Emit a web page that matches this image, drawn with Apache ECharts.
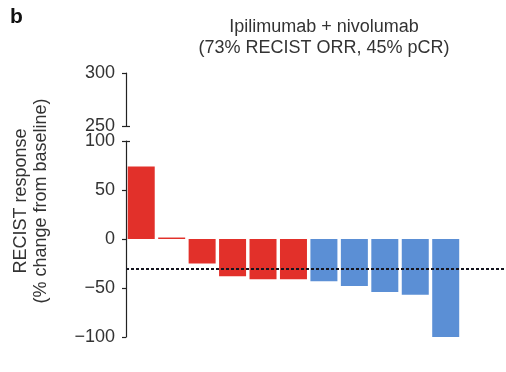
<!DOCTYPE html>
<html><head><meta charset="utf-8">
<script src="https://cdn.jsdelivr.net/npm/echarts@6/dist/echarts.min.js"></script>
<style>html,body{margin:0;padding:0;background:#fff}#c{width:506px;height:372px}</style>
</head><body><div id="c"></div>
<script>
// ---- data ----
const patients = ['P1','P2','P3','P4','P5','P6','P7','P8','P9','P10','P11'];
const responses = [74, 1.5, -25, -38, -41, -41, -43, -48, -54, -57, -100];
const pathCR = [false, false, false, false, false, false, true, true, true, true, true];
const upperTicks = [250, 300];
const lowerTicks = [-100, -50, 0, 50, 100];
const recistThreshold = -30;
const titleLines = ['Ipilimumab + nivolumab', '(73% RECIST ORR, 45% pCR)'];
const yNameLines = ['RECIST response', '(% change from baseline)'];
const panelLetter = 'b';

// ---- style ----
const FONT = '"Liberation Sans", Arial, Helvetica, sans-serif';
const RED = '#e2302a', BLUE = '#5b8fd5', INK = '#222';
const xSpan = 12.48;

const chart = echarts.init(document.getElementById('c'), null, {renderer: 'canvas'});

const fmt = v => String(v).replace('-', '\u2212');
const axisCommon = {
  position: 'left',
  axisLine: {show: true, lineStyle: {color: INK, width: 1.2}},
  axisTick: {show: true, length: 4, lineStyle: {color: INK, width: 1.2}},
  axisLabel: {fontSize: 18, fontFamily: FONT, color: '#333', margin: 11, formatter: fmt},
  splitLine: {show: false}
};
const breakTick = v => ({
  position: 'left',
  axisLine: {show: false}, axisLabel: {show: false}, splitLine: {show: false},
  axisTick: {show: true, inside: true, length: 4, customValues: [v], lineStyle: {color: INK, width: 1.2}}
});

const option = {
  animation: false,
  backgroundColor: '#fff',
  title: {
    text: titleLines.join('\n'),
    left: 319, top: 12, textAlign: 'center',
    textStyle: {fontSize: 18, fontWeight: 'normal', fontFamily: FONT, color: '#333', lineHeight: 21}
  },
  grid: [
    {left: 126, right: 0, top: 73, height: 53},
    {left: 126, right: 0, top: 141, height: 196}
  ],
  xAxis: [
    {gridIndex: 0, type: 'value', min: 0, max: xSpan, show: false},
    {gridIndex: 1, type: 'value', min: 0, max: xSpan, show: false}
  ],
  yAxis: [
    Object.assign({}, axisCommon, {gridIndex: 0, type: 'value', min: upperTicks[0], max: upperTicks[upperTicks.length-1], interval: 50}),
    Object.assign({}, axisCommon, {gridIndex: 1, type: 'value', min: lowerTicks[0], max: lowerTicks[lowerTicks.length-1], interval: 50}),
    Object.assign(breakTick(upperTicks[0]), {gridIndex: 0, type: 'value', min: upperTicks[0], max: upperTicks[upperTicks.length-1]}),
    Object.assign(breakTick(lowerTicks[lowerTicks.length-1]), {gridIndex: 1, type: 'value', min: lowerTicks[0], max: lowerTicks[lowerTicks.length-1]})
  ],
  series: [
    {
      name: 'RECIST response', type: 'bar', xAxisIndex: 1, yAxisIndex: 1,
      barWidth: 27,
      data: responses.map((v, i) => ({
        name: patients[i], value: [i + 0.5, v],
        itemStyle: {color: pathCR[i] ? BLUE : RED}
      })),
      markLine: {
        silent: true, symbol: 'none', z: 10,
        label: {show: false},
        lineStyle: {color: '#15151f', type: [3, 2], width: 1.8},
        data: [{yAxis: recistThreshold}]
      }
    },
    {type: 'line', xAxisIndex: 0, yAxisIndex: 0, data: [], silent: true}
  ],
  graphic: [
    {type: 'text', x: 21, y: 201, rotation: Math.PI / 2,
     style: {text: yNameLines[0], font: '18px ' + FONT, fill: '#333', textAlign: 'center', textVerticalAlign: 'middle', align: 'center', verticalAlign: 'middle'}},
    {type: 'text', x: 41, y: 201, rotation: Math.PI / 2,
     style: {text: yNameLines[1], font: '18px ' + FONT, fill: '#333', textAlign: 'center', textVerticalAlign: 'middle', align: 'center', verticalAlign: 'middle'}},
    {type: 'text', x: 10, y: 17,
     style: {text: panelLetter, font: 'bold 21px ' + FONT, fill: '#111', textVerticalAlign: 'middle', verticalAlign: 'middle'}}
  ]
};
chart.setOption(option);
</script>
</body></html>
